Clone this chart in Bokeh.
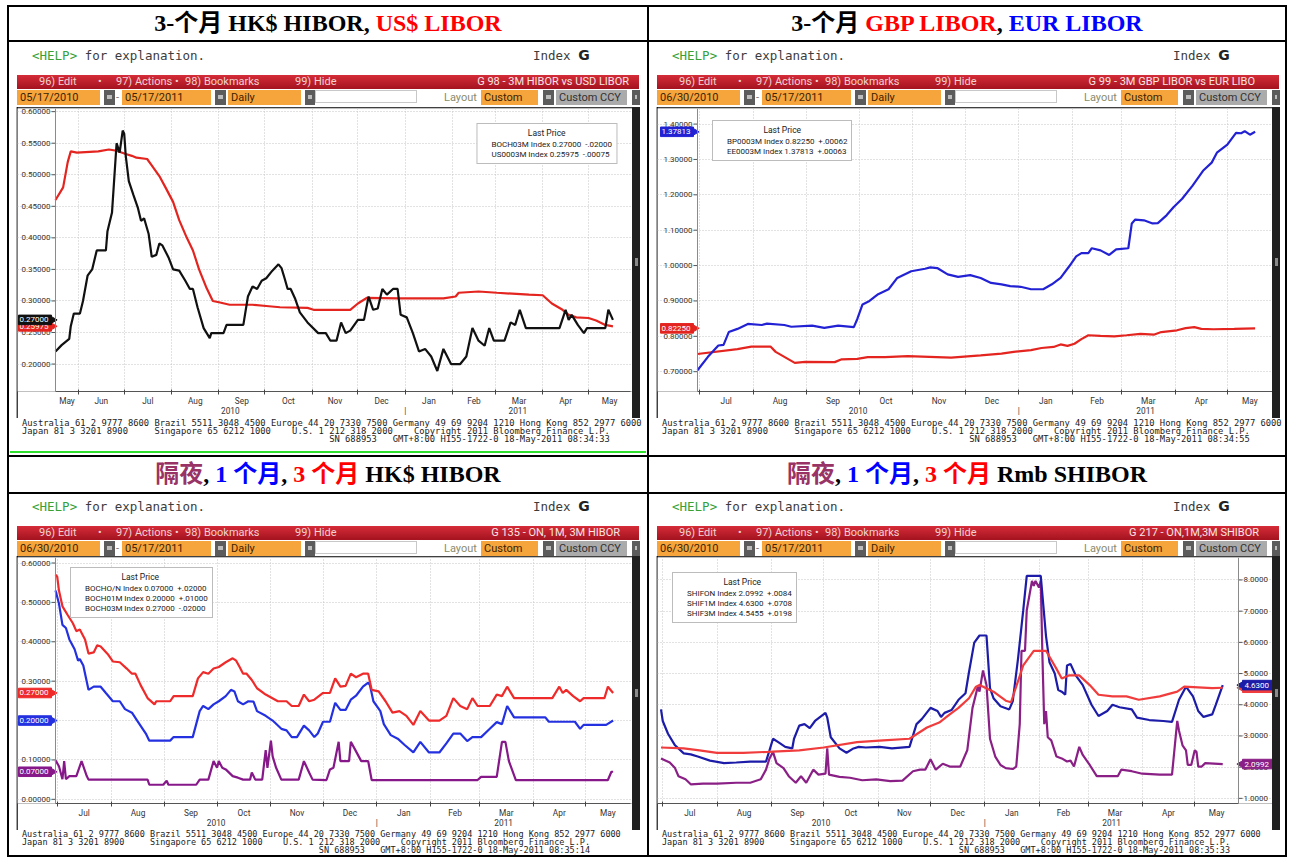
import math
import pandas as pd
from bokeh.plotting import figure
from bokeh.models import (Div, Spacer, Range1d, FixedTicker, CustomJSTickFormatter, AllLabels,
                          Legend, LegendItem, Span)
from bokeh.layouts import column, row
from bokeh.core.properties import value
from bokeh.embed import file_html
from bokeh.resources import INLINE

# ---------------------------------------------------------------- data
hibor3m_dates = ["2010-05-17","2010-05-21","2010-05-26","2010-05-27","2010-05-29","2010-06-02","2010-06-04","2010-06-07","2010-06-10","2010-06-13","2010-06-19","2010-06-20","2010-06-23","2010-06-26","2010-06-28","2010-06-30","2010-07-01","2010-07-02","2010-07-04","2010-07-07","2010-07-10","2010-07-12","2010-07-14","2010-07-17","2010-07-19","2010-07-22","2010-07-24","2010-07-26","2010-07-30","2010-08-02","2010-08-06","2010-08-10","2010-08-13","2010-08-15","2010-08-18","2010-08-22","2010-08-26","2010-08-27","2010-09-04","2010-09-06","2010-09-17","2010-09-20","2010-09-23","2010-09-26","2010-09-29","2010-10-02","2010-10-06","2010-10-10","2010-10-12","2010-10-14","2010-10-16","2010-10-18","2010-10-21","2010-10-24","2010-10-29","2010-11-05","2010-11-10","2010-11-13","2010-11-17","2010-11-20","2010-11-23","2010-11-26","2010-12-01","2010-12-05","2010-12-08","2010-12-11","2010-12-14","2010-12-17","2010-12-20","2010-12-24","2010-12-27","2010-12-29","2011-01-02","2011-01-06","2011-01-10","2011-01-14","2011-01-18","2011-01-22","2011-01-26","2011-01-31","2011-02-06","2011-02-10","2011-02-14","2011-02-18","2011-02-22","2011-02-25","2011-02-28","2011-03-07","2011-03-11","2011-03-14","2011-03-17","2011-03-21","2011-04-12","2011-04-16","2011-04-18","2011-04-20","2011-04-24","2011-04-28","2011-04-30","2011-05-12","2011-05-14","2011-05-17"]
hibor3m_values = [0.22,0.23,0.24,0.26,0.28,0.28,0.30,0.34,0.35,0.38,0.38,0.41,0.44,0.55,0.535,0.57,0.565,0.53,0.49,0.468,0.447,0.427,0.431,0.406,0.37,0.373,0.391,0.388,0.369,0.35,0.348,0.332,0.319,0.319,0.29,0.257,0.241,0.249,0.249,0.262,0.262,0.307,0.323,0.319,0.332,0.336,0.348,0.358,0.352,0.336,0.319,0.319,0.303,0.282,0.266,0.249,0.249,0.237,0.237,0.266,0.249,0.253,0.27,0.27,0.307,0.286,0.288,0.319,0.31,0.319,0.319,0.278,0.274,0.249,0.22,0.224,0.212,0.189,0.224,0.20,0.20,0.212,0.257,0.237,0.229,0.257,0.237,0.237,0.266,0.262,0.286,0.257,0.257,0.286,0.27,0.278,0.262,0.249,0.257,0.257,0.286,0.27]

usd3m_dates = ["2010-05-17","2010-05-22","2010-05-25","2010-05-27","2010-05-31","2010-06-14","2010-06-21","2010-06-26","2010-07-02","2010-07-06","2010-07-09","2010-07-16","2010-07-19","2010-07-24","2010-07-28","2010-08-02","2010-08-06","2010-08-11","2010-08-15","2010-08-19","2010-08-24","2010-08-28","2010-09-01","2010-09-08","2010-09-23","2010-10-02","2010-10-11","2010-10-29","2010-11-02","2010-11-26","2010-12-01","2010-12-07","2010-12-27","2011-01-26","2011-02-03","2011-02-05","2011-02-18","2011-03-02","2011-03-23","2011-04-01","2011-04-07","2011-04-14","2011-04-18","2011-04-23","2011-05-01","2011-05-06","2011-05-12","2011-05-17"]
usd3m_values = [0.46,0.48,0.52,0.537,0.535,0.537,0.54,0.538,0.533,0.53,0.527,0.525,0.515,0.498,0.48,0.457,0.428,0.40,0.38,0.35,0.32,0.30,0.298,0.294,0.294,0.292,0.29,0.289,0.286,0.286,0.296,0.305,0.304,0.304,0.307,0.313,0.315,0.313,0.31,0.309,0.296,0.286,0.278,0.274,0.273,0.269,0.262,0.25975]

gbp3m_dates = ["2010-06-30","2010-07-23","2010-07-31","2010-08-11","2010-08-14","2010-08-19","2010-08-25","2010-08-31","2010-09-17","2010-09-21","2010-09-30","2010-10-06","2010-10-16","2010-10-29","2010-11-23","2010-12-10","2010-12-22","2010-12-29","2011-01-08","2011-01-14","2011-01-21","2011-01-25","2011-01-29","2011-02-02","2011-02-06","2011-02-10","2011-02-17","2011-02-25","2011-03-04","2011-03-12","2011-03-20","2011-03-24","2011-04-02","2011-04-07","2011-04-12","2011-04-16","2011-04-23","2011-05-05","2011-05-17"]
gbp3m_values = [0.75,0.764,0.771,0.771,0.756,0.742,0.725,0.728,0.727,0.735,0.736,0.741,0.741,0.744,0.740,0.746,0.751,0.756,0.761,0.767,0.770,0.777,0.773,0.779,0.792,0.803,0.801,0.800,0.803,0.807,0.805,0.812,0.817,0.823,0.826,0.821,0.820,0.821,0.8225]

eur3m_dates = ["2010-06-30","2010-07-06","2010-07-12","2010-07-15","2010-07-18","2010-07-23","2010-07-29","2010-08-06","2010-08-09","2010-08-19","2010-08-23","2010-09-04","2010-09-11","2010-09-19","2010-09-28","2010-09-30","2010-10-03","2010-10-07","2010-10-12","2010-10-18","2010-10-23","2010-10-31","2010-11-08","2010-11-11","2010-11-15","2010-11-21","2010-11-27","2010-12-04","2010-12-10","2010-12-16","2010-12-22","2010-12-27","2011-01-02","2011-01-08","2011-01-15","2011-01-20","2011-01-25","2011-01-30","2011-02-03","2011-02-06","2011-02-10","2011-02-12","2011-02-17","2011-02-22","2011-02-26","2011-03-05","2011-03-07","2011-03-09","2011-03-14","2011-03-19","2011-03-22","2011-03-27","2011-03-31","2011-04-05","2011-04-11","2011-04-17","2011-04-22","2011-04-25","2011-05-01","2011-05-06","2011-05-09","2011-05-11","2011-05-14","2011-05-17"]
eur3m_values = [0.704,0.742,0.774,0.776,0.812,0.821,0.835,0.832,0.836,0.832,0.827,0.830,0.824,0.830,0.826,0.849,0.890,0.900,0.919,0.933,0.965,0.984,0.991,0.995,0.993,0.975,0.968,0.973,0.965,0.951,0.947,0.942,0.940,0.933,0.933,0.947,0.965,0.998,1.026,1.035,1.035,1.049,1.043,1.030,1.046,1.049,1.119,1.130,1.128,1.119,1.120,1.142,1.165,1.189,1.226,1.268,1.291,1.319,1.342,1.375,1.374,1.380,1.370,1.37813]

hibor1m_dates = ["2010-06-30","2010-07-02","2010-07-04","2010-07-06","2010-07-08","2010-07-11","2010-07-13","2010-07-14","2010-07-16","2010-07-19","2010-07-22","2010-07-26","2010-07-29","2010-08-02","2010-08-06","2010-08-09","2010-08-13","2010-08-16","2010-08-21","2010-08-23","2010-09-04","2010-09-06","2010-09-17","2010-09-21","2010-09-23","2010-09-26","2010-09-29","2010-10-02","2010-10-06","2010-10-09","2010-10-11","2010-10-13","2010-10-16","2010-10-19","2010-10-22","2010-10-24","2010-10-29","2010-11-02","2010-11-07","2010-11-10","2010-11-13","2010-11-16","2010-11-20","2010-11-23","2010-11-26","2010-11-28","2010-12-01","2010-12-05","2010-12-08","2010-12-11","2010-12-14","2010-12-17","2010-12-20","2010-12-24","2010-12-27","2010-12-28","2010-12-30","2011-01-03","2011-01-05","2011-01-09","2011-01-13","2011-01-17","2011-01-22","2011-01-26","2011-01-31","2011-02-06","2011-02-10","2011-02-14","2011-02-18","2011-02-22","2011-02-25","2011-03-02","2011-03-07","2011-03-11","2011-03-14","2011-03-17","2011-03-21","2011-04-08","2011-04-10","2011-04-25","2011-04-28","2011-04-30","2011-05-13","2011-05-17"]
hibor1m_values = [0.53,0.497,0.443,0.435,0.406,0.381,0.352,0.356,0.34,0.278,0.286,0.286,0.27,0.249,0.249,0.229,0.22,0.20,0.167,0.149,0.149,0.158,0.158,0.224,0.237,0.229,0.241,0.249,0.262,0.278,0.274,0.249,0.241,0.249,0.248,0.224,0.212,0.20,0.179,0.175,0.158,0.158,0.187,0.175,0.158,0.167,0.197,0.197,0.245,0.227,0.227,0.253,0.263,0.286,0.296,0.29,0.249,0.224,0.191,0.163,0.154,0.138,0.119,0.146,0.119,0.119,0.142,0.167,0.167,0.148,0.158,0.158,0.179,0.196,0.191,0.237,0.208,0.208,0.197,0.197,0.179,0.189,0.189,0.20]

hibor_on_dates = ["2010-06-30","2010-07-02","2010-07-04","2010-07-05","2010-07-06","2010-07-08","2010-07-12","2010-07-15","2010-07-18","2010-07-19","2010-08-22","2010-08-23","2010-08-31","2010-09-02","2010-09-03","2010-09-19","2010-09-21","2010-09-26","2010-09-29","2010-10-01","2010-10-02","2010-10-04","2010-10-06","2010-10-10","2010-10-13","2010-10-16","2010-10-20","2010-10-21","2010-10-23","2010-10-27","2010-10-29","2010-10-30","2010-11-01","2010-11-02","2010-11-04","2010-11-07","2010-11-17","2010-11-20","2010-11-23","2010-11-25","2010-12-03","2010-12-05","2010-12-07","2010-12-10","2010-12-11","2010-12-16","2010-12-17","2010-12-19","2010-12-23","2010-12-27","2010-12-29","2011-02-28","2011-03-02","2011-03-11","2011-03-14","2011-03-16","2011-03-18","2011-03-22","2011-05-14","2011-05-16","2011-05-17"]
hibor_on_values = [0.099,0.084,0.051,0.097,0.051,0.059,0.059,0.097,0.059,0.05,0.05,0.037,0.037,0.047,0.037,0.037,0.05,0.05,0.097,0.08,0.097,0.08,0.076,0.059,0.055,0.05,0.05,0.068,0.05,0.05,0.125,0.08,0.149,0.109,0.08,0.05,0.05,0.097,0.068,0.05,0.049,0.076,0.08,0.146,0.097,0.097,0.146,0.13,0.097,0.097,0.049,0.049,0.057,0.057,0.146,0.146,0.097,0.049,0.049,0.07,0.07]

shibor1m_dates = ["2010-06-30","2010-07-01","2010-07-04","2010-07-08","2010-07-13","2010-07-17","2010-07-21","2010-07-28","2010-08-05","2010-08-12","2010-08-20","2010-08-29","2010-08-31","2010-09-02","2010-09-05","2010-09-09","2010-09-13","2010-09-14","2010-09-17","2010-09-20","2010-09-23","2010-09-26","2010-10-02","2010-10-03","2010-10-05","2010-10-10","2010-10-14","2010-10-18","2010-10-21","2010-10-25","2010-11-02","2010-11-09","2010-11-19","2010-11-23","2010-11-26","2010-12-01","2010-12-05","2010-12-07","2010-12-09","2010-12-13","2010-12-17","2010-12-21","2010-12-23","2010-12-26","2010-12-29","2011-01-02","2011-01-04","2011-01-06","2011-01-10","2011-01-15","2011-01-17","2011-01-20","2011-01-23","2011-01-25","2011-02-02","2011-02-05","2011-02-07","2011-02-10","2011-02-12","2011-02-14","2011-02-16","2011-02-17","2011-02-19","2011-02-22","2011-02-26","2011-03-03","2011-03-07","2011-03-12","2011-03-15","2011-03-19","2011-03-26","2011-03-29","2011-04-05","2011-04-13","2011-04-18","2011-04-22","2011-04-26","2011-04-30","2011-05-03","2011-05-06","2011-05-11","2011-05-13","2011-05-17"]
shibor1m_values = [3.85,3.48,3.07,2.70,2.44,2.41,2.34,2.21,2.13,2.15,2.18,2.18,2.54,2.91,2.80,2.65,2.60,2.91,3.33,3.38,3.25,3.48,3.74,3.59,2.96,2.60,2.46,2.60,2.65,2.63,2.65,2.60,2.65,3.38,3.54,3.90,3.80,3.61,3.74,3.83,4.16,4.37,5.05,5.99,6.22,6.22,4.53,4.21,3.95,3.85,4.11,5.47,7.03,8.13,8.13,6.20,5.36,5.00,4.47,4.42,4.32,5.26,5.31,4.94,4.63,4.00,3.64,3.80,4.00,3.92,3.85,3.59,3.51,3.48,3.45,4.16,4.58,4.27,3.80,3.61,3.69,4.00,4.63]

shibor3m_dates = ["2010-06-30","2010-07-13","2010-07-22","2010-08-01","2010-08-16","2010-08-30","2010-09-17","2010-10-01","2010-10-20","2010-11-04","2010-11-19","2010-11-29","2010-12-06","2010-12-12","2010-12-17","2010-12-23","2010-12-27","2010-12-29","2011-01-06","2011-01-13","2011-01-16","2011-01-23","2011-01-29","2011-02-05","2011-02-11","2011-02-14","2011-02-18","2011-02-24","2011-03-02","2011-03-07","2011-03-15","2011-03-23","2011-03-30","2011-04-11","2011-04-21","2011-04-25","2011-05-11","2011-05-17"]
shibor3m_values = [2.63,2.60,2.54,2.46,2.46,2.49,2.54,2.63,2.80,2.86,2.91,3.27,3.43,3.69,3.90,4.21,4.58,4.63,4.42,4.13,4.08,5.26,5.73,5.73,5.15,4.84,4.94,4.94,4.63,4.32,4.27,4.27,4.16,4.27,4.42,4.58,4.53,4.5455]

shibor_on_dates = ["2010-06-30","2010-07-05","2010-07-08","2010-07-10","2010-07-14","2010-07-17","2010-07-24","2010-08-01","2010-08-12","2010-08-20","2010-08-26","2010-08-29","2010-08-31","2010-09-02","2010-09-04","2010-09-08","2010-09-11","2010-09-15","2010-09-18","2010-09-21","2010-09-25","2010-09-28","2010-10-02","2010-10-03","2010-10-04","2010-10-10","2010-10-16","2010-10-23","2010-10-31","2010-11-08","2010-11-15","2010-11-21","2010-11-25","2010-11-28","2010-12-01","2010-12-04","2010-12-08","2010-12-12","2010-12-18","2010-12-22","2010-12-25","2010-12-28","2010-12-29","2010-12-31","2011-01-02","2011-01-04","2011-01-07","2011-01-10","2011-01-13","2011-01-17","2011-01-19","2011-01-21","2011-01-22","2011-01-24","2011-01-25","2011-01-28","2011-01-29","2011-01-30","2011-02-01","2011-02-02","2011-02-03","2011-02-04","2011-02-05","2011-02-06","2011-02-08","2011-02-11","2011-02-14","2011-02-17","2011-02-19","2011-02-21","2011-02-24","2011-02-26","2011-03-02","2011-03-06","2011-03-18","2011-03-20","2011-03-26","2011-04-01","2011-04-11","2011-04-18","2011-04-21","2011-04-22","2011-04-24","2011-04-26","2011-04-27","2011-04-29","2011-05-01","2011-05-02","2011-05-03","2011-05-05","2011-05-07","2011-05-17"]
shibor_on_values = [2.28,2.15,1.97,1.71,1.61,1.45,1.47,1.47,1.50,1.50,1.61,1.92,2.28,2.49,2.13,1.97,1.71,1.50,1.71,1.50,1.92,1.76,1.79,2.60,1.76,1.69,1.66,1.58,1.61,1.55,1.57,1.87,1.92,1.92,2.25,1.92,2.11,2.02,2.02,2.54,3.90,4.58,4.42,5.10,4.63,2.91,2.34,2.07,1.97,1.94,2.02,3.38,5.73,5.73,7.03,7.97,7.81,7.97,7.76,7.97,5.47,3.38,3.80,2.96,2.86,2.34,2.28,2.18,2.21,2.02,2.65,2.39,2.07,1.71,1.71,1.92,1.87,1.79,1.76,1.76,3.48,3.17,2.70,2.54,2.07,2.07,2.54,2.49,2.02,2.02,2.13,2.0992]

# tick values
ticks_c1 = [0.20, 0.25, 0.30, 0.35, 0.40, 0.45, 0.50, 0.55, 0.60]
ticks_c2 = [0.70, 0.80, 0.90, 1.00, 1.10, 1.20, 1.30, 1.40]
ticks_c3 = [0.0, 0.1, 0.2, 0.3, 0.4, 0.5, 0.6]
ticks_c4 = [1, 2, 3, 4, 5, 6, 7, 8]

legend_c1 = ["BOCH03M Index 0.27000\u00a0\u00a0-.02000", "US0003M Index 0.25975\u00a0\u00a0-.00075"]
legend_c2 = ["BP0003M Index 0.82250\u00a0\u00a0+.00062", "EE0003M Index 1.37813\u00a0\u00a0+.00063"]
legend_c3 = ["BOCHO/N Index 0.07000\u00a0\u00a0+.02000", "BOCH01M Index 0.20000\u00a0\u00a0+.01000", "BOCH03M Index 0.27000\u00a0\u00a0-.02000"]
legend_c4 = ["SHIFON Index 2.0992\u00a0\u00a0+.0084", "SHIF1M Index 4.6300\u00a0\u00a0+.0708", "SHIF3M Index 4.5455\u00a0\u00a0+.0198"]

RED = "#e3241f"; BLACK = "#111111"; BLUE = "#2222d4"; PURPLE = "#86188a"
NAVY = "#1c1ca8"; PURPLE2 = "#8a1f86"; RED2 = "#f03c3c"; BLUE3 = "#2431e0"; RED3 = "#ee2a2a"

FOOT1 = "Australia 61 2 9777 8600 Brazil 5511 3048 4500 Europe 44 20 7330 7500 Germany 49 69 9204 1210 Hong Kong 852 2977 6000"
FOOT2 = ("Japan 81 3 3201 8900".ljust(25) + "Singapore 65 6212 1000".ljust(26)
         + "U.S. 1 212 318 2000".ljust(23) + "Copyright 2011 Bloomberg Finance L.P.")


def ms(t):
    return int(round(t.value / 1e6))


def month_marks(x0, x1, min_days=10):
    m = pd.Timestamp(year=x0.year, month=x0.month, day=1)
    mids, names, starts = [], [], []
    while m < x1:
        nxt = m + pd.offsets.MonthBegin(1)
        a, b = max(m, x0), min(nxt, x1)
        if (b - a) >= pd.Timedelta(days=min_days):
            mids.append(ms(a + (b - a) / 2))
            names.append(m.strftime("%b"))
        if m > x0:
            starts.append(ms(m))
        m = nxt
    return mids, names, starts


def year_marks(x0, x1):
    y = pd.Timestamp(year=x0.year, month=1, day=1)
    mids, names, seps = [], [], []
    while y < x1:
        nxt = pd.Timestamp(year=y.year + 1, month=1, day=1)
        a, b = max(y, x0), min(nxt, x1)
        mids.append(ms(a + (b - a) / 2))
        names.append(str(y.year))
        if y > x0:
            seps.append(ms(y))
        y = nxt
    return mids, names, seps


FIG_W = 615
AXIS_PANEL = 26   # approx. height taken by the bottom axis (two label rows)


def chart(fig_h, top_border, a, b, xr, yr, yticks, ydigits, series, legend_colors, legend_labels,
          legend_loc, tags, side="left"):
    x0, x1 = pd.Timestamp(xr[0]), pd.Timestamp(xr[1])
    k = (x1 - x0) / (b - a)                               # time per pixel
    r0, r1 = x0 - a * k, x1 + (FIG_W - b) * k
    frame_h = fig_h - top_border - AXIS_PANEL
    ypp = (yr[1] - yr[0]) / frame_h                       # value per pixel

    p = figure(width=FIG_W, height=fig_h, x_axis_type="datetime", y_axis_location=None,
               x_range=Range1d(r0, r1), y_range=Range1d(*yr),
               toolbar_location=None, output_backend="svg", margin=0,
               min_border_left=0, min_border_right=0, min_border_top=top_border,
               min_border_bottom=0, background_fill_color="white", border_fill_color="white",
               outline_line_color=None)

    # time axis: month names on the first row, years (and the year break) on the second row
    mids, mnames, starts = month_marks(x0, x1)
    ymids, ynames, seps = year_marks(x0, x1)
    tick_pos = mids + ymids + seps
    tick_lab = mnames + ["\n" + y for y in ynames] + ["\n|"] * len(seps)
    ax = p.xaxis[0]
    ax.ticker = FixedTicker(ticks=tick_pos, minor_ticks=starts)
    ax.formatter = CustomJSTickFormatter(args=dict(pos=tick_pos, lab=tick_lab),
                                         code="const i = pos.indexOf(tick); return i < 0 ? '' : lab[i];")
    ax.major_label_policy = AllLabels()
    ax.bounds = (ms(x0), ms(x1))
    ax.major_tick_line_color = None
    ax.major_tick_out = 0
    ax.major_tick_in = 0
    ax.minor_tick_line_color = "#444444"
    ax.minor_tick_in = 2
    ax.minor_tick_out = 3
    ax.axis_line_color = "#555555"
    ax.major_label_text_font = "Roboto"
    ax.major_label_text_font_size = "8.3px"
    ax.major_label_text_color = "#333333"
    ax.major_label_text_line_height = 1.0
    ax.major_label_standoff = 1

    # grids
    p.xgrid.ticker = FixedTicker(ticks=starts)
    p.ygrid.ticker = FixedTicker(ticks=yticks)
    p.ygrid.bounds = (ms(x0), ms(x1))
    for g in (p.xgrid[0], p.ygrid[0]):
        g.grid_line_color = "#c4c4c4"
        g.grid_line_dash = "1 2"
        g.grid_line_width = 1

    # value axis (drawn inside the canvas so that the last-price tags can sit on it)
    xa = x0 if side == "left" else x1
    sgn = -1 if side == "left" else 1
    p.add_layout(Span(location=ms(xa), dimension="height", line_color="#8a8a8a", line_width=1))
    n = len(yticks)
    p.segment(x0=[ms(xa)] * n, x1=[ms(xa + sgn * 4 * k)] * n, y0=yticks, y1=yticks,
              line_color="#555555", line_width=1)
    p.text(x=[ms(xa + sgn * 5 * k)] * n, y=yticks, text=[f"{v:.{ydigits}f}" for v in yticks],
           text_align="right" if side == "left" else "left", text_baseline="middle",
           text_font=value("Roboto"), text_font_size=value("8px"), text_color="#333333")

    for dates, vals, color in series:
        p.line(pd.to_datetime(dates), vals, line_color=color, line_width=2.2)

    # legend
    items = []
    for lab, color in zip(legend_labels, legend_colors):
        r = p.scatter(x=[], y=[], marker="square", size=7, fill_color=color, line_color=color)
        items.append(LegendItem(label=lab, renderers=[r]))
    loc = legend_loc
    if isinstance(legend_loc, tuple):
        lx, ltop, lh = legend_loc
        loc = (lx, frame_h - ltop - lh)
    leg = Legend(items=items, location=loc, margin=15, padding=4, spacing=0,
                 title="\u00a0" * 22 + "Last Price", title_text_font="Roboto",
                 title_text_font_size="8.5px", title_text_font_style="normal",
                 title_text_color="#222222", title_standoff=1,
                 label_text_font="Roboto", label_text_font_size="8px", label_text_color="#222222",
                 label_height=10, glyph_height=8, glyph_width=8, label_standoff=2,
                 border_line_color="#7a7a7a", border_line_width=1, background_fill_color="white",
                 background_fill_alpha=1.0)
    p.add_layout(leg)

    # last-price tags on the value axis
    for val, text, color in tags:
        if side == "left":
            l, r, tx, ang = xa - 37 * k, xa - 4 * k, xa - 36 * k, -math.pi / 2
        else:
            l, r, tx, ang = xa + 4 * k, xa + 34 * k, xa + 6 * k, math.pi / 2
        hh = 4.8 * ypp
        p.quad(left=[ms(l)], right=[ms(r)], bottom=[val - hh], top=[val + hh],
               fill_color=color, line_color=color)
        p.scatter(x=[ms(xa + sgn * 3 * k)], y=[val], marker="triangle", angle=ang, size=8,
                  fill_color=color, line_color=color)
        p.text(x=[ms(tx)], y=[val], text=[text], text_align="left", text_baseline="middle",
               text_font=value("Roboto"), text_font_size=value("8px"), text_color="white")
    return p


# ---------------------------------------------------------------- layout helpers
def title_div(w, h, html):
    return Div(text=(f'<div style="width:{w}px;height:{h}px;line-height:{h}px;text-align:center;'
                     "font-family:'Liberation Serif','Noto Sans CJK SC',serif;font-weight:bold;"
                     f'font-size:24px;color:#000;white-space:nowrap;">{html}</div>'),
               width=w, height=h, margin=0,
               styles={"background-color": "white", "overflow": "hidden"})


def ui_div(w, h, bar_top, d1, d2, code, code_right):
    R = [f'<div style="position:relative;width:{w}px;height:{h}px;overflow:hidden;background:#fff;'
         "font-family:Roboto;\">"]
    ht = bar_top - 27
    R.append(f'<div style="position:absolute;left:23px;top:{ht}px;font-family:\'DejaVu Sans Mono\';'
             'font-size:12.5px;line-height:15px;color:#3c3c3c;white-space:pre;">'
             '<span style="color:#36a136">&lt;HELP&gt;</span> for explanation.</div>')
    R.append(f'<div style="position:absolute;left:524px;top:{ht}px;font-family:\'DejaVu Sans Mono\';'
             'font-size:12.5px;line-height:15px;color:#3c3c3c;white-space:pre;">Index '
             '<span style="font-family:\'DejaVu Sans\';font-weight:bold;font-size:14px;color:#222">G</span></div>')
    R.append(f'<div style="position:absolute;left:8px;top:{bar_top}px;width:622px;height:14px;'
             'background:linear-gradient(#d52c38,#a3131f);"></div>')
    for x, t in [(30, "96) Edit"), (89, "\u2022"), (107, "97) Actions"), (166, "\u2022"),
                 (176, "98) Bookmarks"), (286, "99) Hide")]:
        R.append(f'<div style="position:absolute;left:{x}px;top:{bar_top}px;height:14px;line-height:14px;'
                 f'font-size:11px;color:#f1d2d2;white-space:pre;">{t}</div>')
    R.append(f'<div style="position:absolute;right:{w - code_right}px;top:{bar_top}px;height:14px;'
             f'line-height:14px;font-size:11px;color:#f7e6e6;white-space:pre;">{code}</div>')
    ot = bar_top + 15
    R.append(f'<div style="position:absolute;left:306px;top:{ot}px;width:102px;height:13px;'
             'border:1px solid #c8c8c8;background:#fff;"></div>')
    for x, wd, bg, t, fg in [(8, 86, "#f6a53d", d1, "#3b2200"), (113, 92, "#f6a53d", d2, "#3b2200"),
                             (219, 76, "#f6a53d", "Daily", "#3b2200"),
                             (472, 60, "#f6a53d", "Custom", "#3b2200"),
                             (547, 74, "#ababab", "Custom CCY", "#303030")]:
        R.append(f'<div style="position:absolute;left:{x}px;top:{ot}px;width:{wd - 3}px;height:15px;'
                 f'padding-left:3px;background:{bg};color:{fg};font-size:11px;line-height:15px;'
                 f'white-space:pre;overflow:hidden;">{t}</div>')
    for x, wd in [(95, 11), (206, 11), (296, 10), (534, 11), (623, 8)]:
        R.append(f'<div style="position:absolute;left:{x}px;top:{ot}px;width:{wd}px;height:15px;'
                 'background:#5c5c5c;"><div style="position:absolute;left:3px;top:5px;width:'
                 f'{max(wd - 6, 2)}px;height:4px;background:#bdbdbd;"></div></div>')
    R.append(f'<div style="position:absolute;left:107px;top:{ot}px;line-height:15px;font-size:11px;'
             'color:#777;">-</div>')
    R.append(f'<div style="position:absolute;left:435px;top:{ot}px;line-height:15px;font-size:11px;'
             'color:#8c8c6a;">Layout</div>')
    R.append('</div>')
    return Div(text="".join(R), width=w, height=h, margin=0, styles={"overflow": "hidden"})


def pad_div(w, h, line_at=None):
    inner = ""
    if line_at is not None:
        inner = (f'<div style="position:absolute;left:{line_at}px;top:0;width:1px;height:{h}px;'
                 'background:#a4a4a4;"></div>')
    return Div(text=f'<div style="position:relative;width:{w}px;height:{h}px;background:#fff;">{inner}</div>',
               width=w, height=h, margin=0, styles={"overflow": "hidden", "background-color": "white"})


def bar_div(h):
    return Div(text=(f'<div style="position:relative;width:8px;height:{h}px;background:#202020;">'
                     f'<div style="position:absolute;left:3px;top:{h // 2 - 4}px;width:3px;height:8px;'
                     'background:#8a8a8a;"></div></div>'),
               width=8, height=h, margin=0, styles={"overflow": "hidden"})


def footer_div(w, h, top, lh, fs, stamp, green=False):
    line3 = " " * 58 + "SN 688953" + " " * 3 + "GMT+8:00 H155-1722-0 18-May-2011 " + stamp
    g = ""
    if green:
        g = (f'<div style="position:absolute;left:1px;top:{h - 4}px;width:{w - 2}px;height:2px;'
             'background:#2fe02f;"></div>')
    html = (f'<div style="position:relative;width:{w}px;height:{h}px;background:#fff;overflow:hidden;">'
            f'<div style="position:absolute;left:13px;top:{top}px;font-family:\'DejaVu Sans Mono\';'
            f'font-size:{fs}px;line-height:{lh}px;color:#222;white-space:pre;">'
            f'{FOOT1}\n{FOOT2}\n{line3}</div>{g}</div>')
    return Div(text=html, width=w, height=h, margin=0, styles={"overflow": "hidden"})


def sp(w, h):
    return Spacer(width=w, height=h, margin=0)


# ---------------------------------------------------------------- build cells
WL, WR = 638, 636
HEAD1, HEAD2 = 33, 35
B1, B2 = 413, 361
TOP_FIG_H, BOT_FIG_H = 311, 274


def body(w, kind, d1, d2, code, code_right, p, stamp, green=False):
    if kind == "top":
        ui_h, bar_top, fig_h, foot_h, foot_top, foot_lh, foot_fs = 65, 33, TOP_FIG_H, 37, 1, 8, 8.8
    else:
        ui_h, bar_top, fig_h, foot_h, foot_top, foot_lh, foot_fs = 62, 32, BOT_FIG_H, 25, 1, 7.8, 8.5
    ui = ui_div(w, ui_h, bar_top, d1, d2, code, code_right)
    chart_row = row(pad_div(8, fig_h, 7), p, bar_div(fig_h), pad_div(w - 631, fig_h),
                    spacing=0, margin=0)
    return column(ui, chart_row, footer_div(w, foot_h, foot_top, foot_lh, foot_fs, stamp, green),
                  spacing=0, margin=0)


p1 = chart(TOP_FIG_H, 1, 38, 613, ("2010-05-17", "2011-05-28 12:00"), (0.1565, 0.605), ticks_c1, 5,
           [(usd3m_dates, usd3m_values, RED), (hibor3m_dates, hibor3m_values, BLACK)],
           [BLACK, RED], legend_c1, "top_right",
           [(0.25975, "0.25975", RED), (0.27, "0.27000", BLACK)])

p2 = chart(TOP_FIG_H, 1, 40, 615, ("2010-06-30", "2011-05-27"), (0.644, 1.444), ticks_c2, 5,
           [(gbp3m_dates, gbp3m_values, RED), (eur3m_dates, eur3m_values, BLUE)],
           [RED, BLUE], legend_c2, (55, 17, 37),
           [(1.37813, "1.37813", BLUE), (0.8225, "0.82250", RED)])

h3_dates = [d for d in hibor3m_dates if d >= "2010-06-30"]
h3_values = [v for d, v in zip(hibor3m_dates, hibor3m_values) if d >= "2010-06-30"]
p3 = chart(BOT_FIG_H, 1, 38, 613, ("2010-06-30", "2011-05-27"), (-0.0106, 0.614), ticks_c3, 5,
           [(hibor_on_dates, hibor_on_values, PURPLE), (hibor1m_dates, hibor1m_values, BLUE3),
            (h3_dates, h3_values, RED3)],
           [PURPLE, BLUE3, RED3], legend_c3, (53, 14, 48),
           [(0.27, "0.27000", RED3), (0.20, "0.20000", BLUE3), (0.07, "0.07000", PURPLE)])

p4 = chart(BOT_FIG_H, 1, 0, 581, ("2010-06-28", "2011-05-26"), (0.835, 8.72), ticks_c4, 4,
           [(shibor_on_dates, shibor_on_values, PURPLE2), (shibor1m_dates, shibor1m_values, NAVY),
            (shibor3m_dates, shibor3m_values, RED2)],
           [PURPLE2, NAVY, RED2], legend_c4, "top_left",
           [(4.5455, "4.5455", RED2), (4.63, "4.6300", NAVY), (2.0992, "2.0992", PURPLE2)],
           side="right")

RD = "#ff0000"; BL = "#0000ff"; PU = "#993366"
t1 = f'3-个月 HK$ HIBOR, <span style="color:{RD}">US$ LIBOR</span>'
t2 = f'3-个月 <span style="color:{RD}">GBP LIBOR</span>, <span style="color:{BL}">EUR LIBOR</span>'
t3 = (f'<span style="color:{PU}">隔夜</span>, <span style="color:{BL}">1 个月</span>, '
      f'<span style="color:{RD}">3 个月</span> HK$ HIBOR')
t4 = (f'<span style="color:{PU}">隔夜</span>, <span style="color:{BL}">1 个月</span>, '
      f'<span style="color:{RD}">3 个月</span> Rmb SHIBOR')

cellTL = column(title_div(WL, HEAD1, t1), sp(WL, 2),
                body(WL, "top", "05/17/2010", "05/17/2011", "G 98 - 3M HIBOR vs USD LIBOR", 620, p1,
                     "08:34:33", green=True), spacing=0, margin=0)
cellTR = column(title_div(WR, HEAD1, t2), sp(WR, 2),
                body(WR, "top", "06/30/2010", "05/17/2011", "G 99 - 3M GBP LIBOR vs EUR LIBO", 606, p2,
                     "08:34:55"), spacing=0, margin=0)
cellBL = column(title_div(WL, HEAD2, t3), sp(WL, 2),
                body(WL, "bot", "06/30/2010", "05/17/2011", "G 135 - ON, 1M, 3M HIBOR", 611, p3,
                     "08:35:14"), spacing=0, margin=0)
cellBR = column(title_div(WR, HEAD2, t4), sp(WR, 2),
                body(WR, "bot", "06/30/2010", "05/17/2011", "G 217 - ON,1M,3M SHIBOR", 610, p4,
                     "08:35:33"), spacing=0, margin=0)

TOTAL_W = 2 + WL + 2 + WR + 2
H1 = HEAD1 + 2 + B1
H2 = HEAD2 + 2 + B2
table = column(
    sp(TOTAL_W, 2),
    row(sp(2, H1), cellTL, sp(2, H1), cellTR, sp(2, H1), spacing=0, margin=0),
    sp(TOTAL_W, 2),
    row(sp(2, H2), cellBL, sp(2, H2), cellBR, sp(2, H2), spacing=0, margin=0),
    sp(TOTAL_W, 2),
    spacing=0, margin=0, styles={"background-color": "#000000"})

root = column(sp(TOTAL_W + 7, 5), row(sp(7, 10), table, spacing=0, margin=0), spacing=0, margin=0)

open("out.html", "w").write(file_html(root, INLINE, title="HIBOR LIBOR SHIBOR"))
